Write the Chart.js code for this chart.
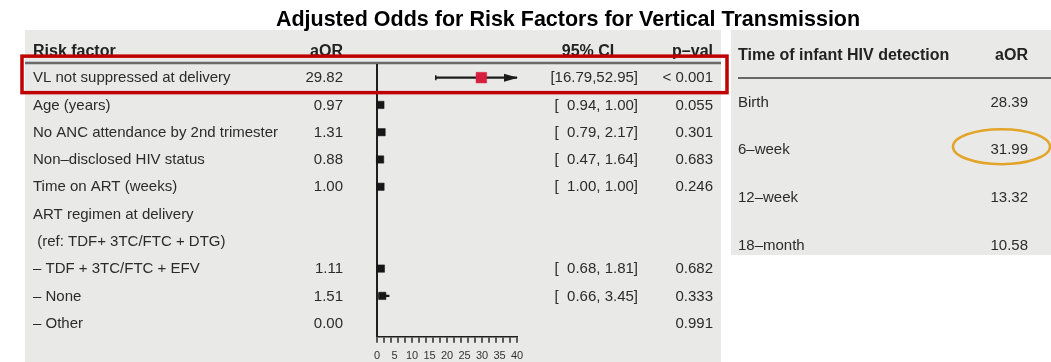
<!DOCTYPE html>
<html>
<head>
<meta charset="utf-8">
<title>Adjusted Odds for Risk Factors for Vertical Transmission</title>
<script src="https://cdn.jsdelivr.net/npm/chart.js@4/dist/chart.umd.min.js"></script>
<style>
  html, body { margin: 0; padding: 0; background: #fff; overflow: hidden; }
  #wrap { position: relative; width: 1051px; height: 362px; overflow: hidden; }
  #forestChart { position: absolute; left: 0; top: 0; }
  #detectChart { position: absolute; left: 731px; top: 30px; }
</style>
</head>
<body>
<div id="wrap">
  <canvas id="forestChart" width="1051" height="372"></canvas>
  <canvas id="detectChart" width="320" height="225"></canvas>
</div>
<script>
// Risk factor table (forest plot)
const riskFactors = [
    "VL not suppressed at delivery",
    "Age (years)",
    "No ANC attendance by 2nd trimester",
    "Non\u2013disclosed HIV status",
    "Time on ART (weeks)",
    "ART regimen at delivery",
    " (ref: TDF+ 3TC/FTC + DTG)",
    "\u2013 TDF + 3TC/FTC + EFV",
    "\u2013 None",
    "\u2013 Other"
];
const aOR    = [29.82, 0.97, 1.31, 0.88, 1.00, null, null, 1.11, 1.51, 0.00];
const ciLow  = [16.79, 0.94, 0.79, 0.47, 1.00, null, null, 0.68, 0.66, null];
const ciHigh = [52.95, 1.00, 2.17, 1.64, 1.00, null, null, 1.81, 3.45, null];
const pValues = ["< 0.001", "0.055", "0.301", "0.683", "0.246", "", "", "0.682", "0.333", "0.991"];
const highlightRow = 0;

// x axis: 0..40, tick marks every 2, labels every 5
const xMax = 40;
const tickEvery = 2;
const labelEvery = 5;

// Time of infant HIV detection table
const detectTimes = ["Birth", "6\u2013week", "12\u2013week", "18\u2013month"];
const detectAOR = [28.39, 31.99, 13.32, 10.58];
const circledRow = 1;

const FONT = "'Liberation Sans', Arial, Helvetica, sans-serif";
const PANEL_BG = "#e9eae7";
const TEXT = "#2b2b2b";
Chart.defaults.font.family = FONT;

function fmtCI(lo, hi) {
    if (lo === null) return "";
    if (lo >= 10) return "[" + lo.toFixed(2) + "," + hi.toFixed(2) + "]";
    return "[\u2007" + lo.toFixed(2) + ", " + hi.toFixed(2) + "]";
}

// markers only for rows that have an interval
const markerRows = riskFactors.map((r, i) => i).filter(i => ciLow[i] !== null);
const pointData = markerRows.map(i => ({ x: aOR[i], y: riskFactors[i] }));
const pointColors = markerRows.map(i => i === highlightRow ? "#d61f3e" : "#161616");
const pointSizes = markerRows.map(i => i === highlightRow ? 7.5 : 5.2);
const ciData = ciLow.map((lo, i) => lo === null ? null : [lo, ciHigh[i]]);

// panel, title, text columns, arrow heads and highlight box
const forestTable = {
    id: "forestTable",
    beforeDraw(chart) {
        const { ctx } = chart;
        ctx.save();
        ctx.fillStyle = PANEL_BG;
        ctx.fillRect(25, 30, 696, 342);

        // title
        ctx.fillStyle = "#000";
        ctx.font = "bold 21.5px " + FONT;
        ctx.textAlign = "center";
        ctx.textBaseline = "alphabetic";
        ctx.fillText("Adjusted Odds for Risk Factors for Vertical Transmission", 568, 26);

        // header
        ctx.fillStyle = "#222";
        ctx.font = "bold 16px " + FONT;
        ctx.textBaseline = "middle";
        ctx.textAlign = "left";
        ctx.fillText("Risk factor", 33, 52);
        ctx.textAlign = "right";
        ctx.fillText("aOR", 343, 52);
        ctx.fillText("p\u2013val", 713, 52);
        ctx.textAlign = "center";
        ctx.fillText("95% CI", 588, 52);

        // header rule
        ctx.strokeStyle = "#6a6a6a";
        ctx.lineWidth = 2.5;
        ctx.beginPath();
        ctx.moveTo(25, 63);
        ctx.lineTo(721, 63);
        ctx.stroke();

        // rows
        const y = chart.scales.y;
        ctx.fillStyle = TEXT;
        ctx.font = "15px " + FONT;
        riskFactors.forEach((label, i) => {
            const py = y.getPixelForValue(i) + 0.5;
            ctx.textAlign = "left";
            ctx.fillText(label, 33, py);
            ctx.textAlign = "right";
            if (aOR[i] !== null) ctx.fillText(aOR[i].toFixed(2), 343, py);
            ctx.fillText(fmtCI(ciLow[i], ciHigh[i]), 638, py);
            ctx.fillText(pValues[i], 713, py);
        });
        ctx.restore();
    },
    afterDatasetsDraw(chart) {
        const { ctx, scales: { x, y } } = chart;
        ctx.save();
        ctx.fillStyle = "#1b1b1b";
        ctx.strokeStyle = "#1b1b1b";
        ctx.lineWidth = 1.5;
        ciLow.forEach((lo, i) => {
            if (lo === null) return;
            const py = y.getPixelForValue(i);
            // end cap at the lower limit
            const lx = x.getPixelForValue(lo);
            ctx.beginPath();
            ctx.moveTo(lx, py - 2.5);
            ctx.lineTo(lx, py + 2.5);
            ctx.stroke();
            // arrow where the interval runs past the axis
            if (ciHigh[i] > x.max) {
                const px = x.getPixelForValue(x.max) + 1;
                ctx.beginPath();
                ctx.moveTo(px, py);
                ctx.lineTo(px - 14, py - 4);
                ctx.lineTo(px - 14, py + 4);
                ctx.closePath();
                ctx.fill();
            }
        });
        ctx.restore();
    },
    afterDraw(chart) {
        const { ctx } = chart;
        const py = chart.scales.y.getPixelForValue(highlightRow);
        ctx.save();
        ctx.strokeStyle = "#c00000";
        ctx.lineWidth = 3.5;
        ctx.strokeRect(22, py - 21.5, 705, 36.5);
        ctx.restore();
    }
};

const forestChart = new Chart(document.getElementById("forestChart"), {
    type: "bar",
    data: {
        labels: riskFactors,
        datasets: [
            {
                type: "line",
                label: "aOR",
                data: pointData,
                showLine: false,
                pointStyle: "rect",
                pointRadius: pointSizes,
                pointBackgroundColor: pointColors,
                pointBorderColor: pointColors,
                pointBorderWidth: 0.5,
                clip: false,
                order: 0
            },
            {
                type: "bar",
                label: "95% CI",
                data: ciData,
                backgroundColor: "#1b1b1b",
                barThickness: 1.5,
                clip: 0,
                order: 1
            }
        ]
    },
    options: {
        indexAxis: "y",
        responsive: false,
        animation: false,
        layout: { padding: { left: 377, right: 534, top: 64, bottom: 2 } },
        plugins: {
            legend: { display: false },
            title: { display: false },
            tooltip: { enabled: false }
        },
        scales: {
            y: { type: "category", offset: true, display: false },
            x: {
                type: "linear",
                min: 0,
                max: xMax,
                ticks: {
                    stepSize: 1,
                    autoSkip: false,
                    maxRotation: 0,
                    padding: 7,
                    color: "#333",
                    font: { size: 11 },
                    callback: v => v % labelEvery === 0 ? v : ""
                },
                grid: {
                    drawOnChartArea: true,
                    color: c => c.tick && c.tick.value === 0 ? "#1f1f1f" : "rgba(0,0,0,0)",
                    lineWidth: 2,
                    tickColor: c => c.tick && c.tick.value % tickEvery === 0 ? "#2a2a2a" : "rgba(0,0,0,0)",
                    tickLength: 6,
                    tickWidth: 1.5
                },
                border: { display: true, color: "#1f1f1f", width: 1.5 }
            }
        }
    },
    plugins: [forestTable]
});

// second panel: detection time table
const detectTable = {
    id: "detectTable",
    beforeDraw(chart) {
        const { ctx, width, height } = chart;
        const y = chart.scales.y;
        ctx.save();
        ctx.fillStyle = PANEL_BG;
        ctx.fillRect(0, 0, width, height);

        ctx.fillStyle = "#222";
        ctx.font = "bold 16px " + FONT;
        ctx.textBaseline = "middle";
        ctx.textAlign = "left";
        ctx.fillText("Time of infant HIV detection", 7, 26);
        ctx.textAlign = "right";
        ctx.fillText("aOR", 297, 26);

        ctx.strokeStyle = "#666";
        ctx.lineWidth = 2;
        ctx.beginPath();
        ctx.moveTo(7, 48);
        ctx.lineTo(width, 48);
        ctx.stroke();

        ctx.fillStyle = TEXT;
        ctx.font = "15px " + FONT;
        detectTimes.forEach((t, i) => {
            const py = y.getPixelForValue(i) + 0.5;
            ctx.textAlign = "left";
            ctx.fillText(t, 7, py);
            ctx.textAlign = "right";
            ctx.fillText(detectAOR[i].toFixed(2), 297, py);
        });
        ctx.restore();
    },
    afterDraw(chart) {
        const { ctx } = chart;
        const py = chart.scales.y.getPixelForValue(circledRow);
        ctx.save();
        ctx.strokeStyle = "#e2a52a";
        ctx.lineWidth = 2.5;
        ctx.beginPath();
        ctx.ellipse(270.5, py - 3, 48.5, 17.5, 0, 0, Math.PI * 2);
        ctx.stroke();
        ctx.restore();
    }
};

const detectChart = new Chart(document.getElementById("detectChart"), {
    type: "bar",
    data: { labels: detectTimes, datasets: [] },
    options: {
        indexAxis: "y",
        responsive: false,
        animation: false,
        layout: { padding: { left: 7, right: 23, top: 72, bottom: 10 } },
        plugins: { legend: { display: false }, tooltip: { enabled: false } },
        scales: {
            y: { type: "category", offset: false, display: false },
            x: { display: false }
        }
    },
    plugins: [detectTable]
});
</script>
</body>
</html>
